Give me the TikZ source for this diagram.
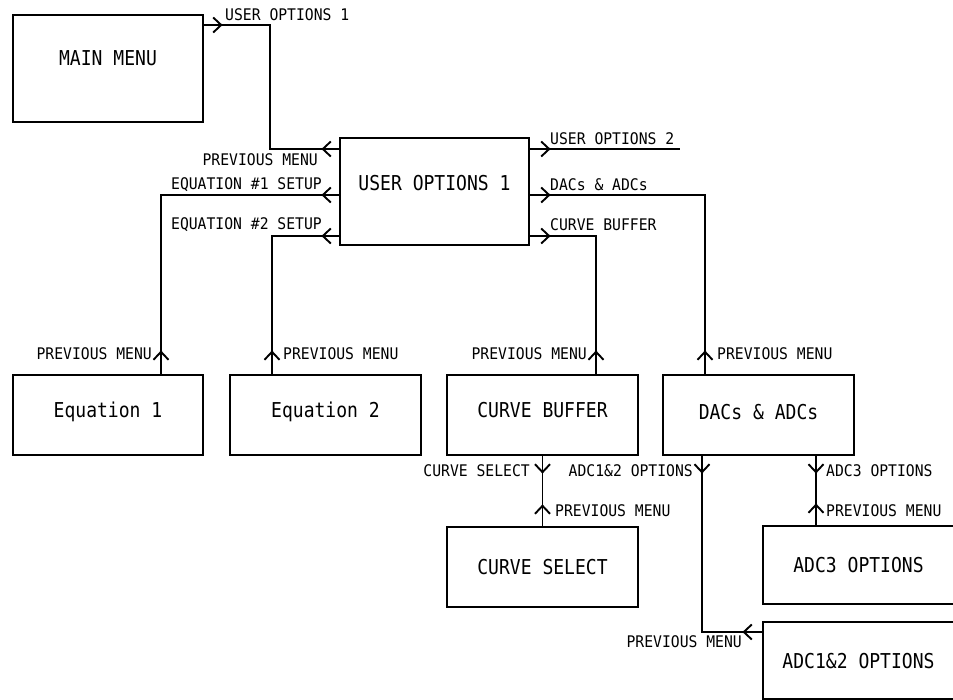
\documentclass[tikz,border=0pt]{standalone}
\usepackage{fontspec}
\newfontfamily\dmono[FakeStretch=0.92]{DejaVu Sans Mono}
\newfontfamily\bmono[FakeStretch=0.88]{DejaVu Sans Mono}
\usetikzlibrary{arrows.meta}
\tikzset{
  boxnode/.style={draw, line width=1.2pt, minimum width=191pt, minimum height=80pt, inner sep=0pt,
    font=\bmono\fontsize{20.5}{24}\selectfont, text height=15pt, text depth=0pt},
  lbl/.style={inner sep=0pt, font=\dmono\fontsize{16}{19}\selectfont},
  conn/.style={line width=1.2pt},
  arr/.style={line width=1.2pt, -{Straight Barb[length=8pt,width=15pt,line width=1.9pt]}},
}
\begin{document}
\begin{tikzpicture}[x=1pt,y=-1pt]
\useasboundingbox (0,0) rectangle (953,700);
\clip (0,0) rectangle (953,700);
% boxes
\node[boxnode, minimum width=190pt, minimum height=107pt, text depth=21pt] (main) at (108,68.5) {MAIN MENU};
\node[boxnode, minimum width=189pt, minimum height=107pt, text depth=17pt] (uo1) at (434.5,191.5) {USER OPTIONS 1};
\node[boxnode, minimum width=190pt, text depth=10pt] (eq1) at (108,415) {Equation 1};
\node[boxnode, text depth=10pt] (eq2) at (325.5,415) {Equation 2};
\node[boxnode, text depth=10pt] (cb) at (542.5,415) {CURVE BUFFER};
\node[boxnode, text depth=6pt] (dac) at (758.5,415) {DACs \& ADCs};
\node[boxnode] (cs) at (542.5,567) {CURVE SELECT};
\node[boxnode, minimum height=78pt] (adc3) at (858.5,565) {ADC3 OPTIONS};
\node[boxnode, minimum height=77pt] (adc12) at (858.5,660.5) {ADC1\&2 OPTIONS};
\coordinate (uo2end) at (680,149);
% connectors
\draw[conn] (main.east |- 0,25) -- (270,25) |- (uo1.west |- 0,149);
\draw[arr] (main.east |- 0,25) -- ++(19,0);
\draw[arr] (uo1.west |- 0,149) -- ++(-18,0);
\draw[conn] (uo1.west |- 0,195) -| (161,0 |- eq1.north);
\draw[arr] (uo1.west |- 0,195) -- ++(-18,0);
\draw[arr] (161,0 |- eq1.north) -- ++(0,-24);
\draw[conn] (uo1.west |- 0,236) -| (272,0 |- eq2.north);
\draw[arr] (uo1.west |- 0,236) -- ++(-18,0);
\draw[arr] (272,0 |- eq2.north) -- ++(0,-24);
\draw[conn] (uo1.east |- 0,149) -- (uo2end);
\draw[arr] (uo1.east |- 0,149) -- ++(21,0);
\draw[conn] (uo1.east |- 0,195) -| (705,0 |- dac.north);
\draw[arr] (uo1.east |- 0,195) -- ++(21,0);
\draw[arr] (705,0 |- dac.north) -- ++(0,-24);
\draw[conn] (uo1.east |- 0,236) -| (596,0 |- cb.north);
\draw[arr] (uo1.east |- 0,236) -- ++(21,0);
\draw[arr] (596,0 |- cb.north) -- ++(0,-24);
\draw[conn] (cb.south) -- (cs.north);
\draw[arr] (cb.south) -- ++(0,18);
\draw[arr] (cs.north) -- ++(0,-22);
\draw[conn] (702,0 |- dac.south) |- (adc12.west |- 0,632);
\draw[arr] (702,0 |- dac.south) -- ++(0,18);
\draw[arr] (adc12.west |- 0,632) -- ++(-20,0);
\draw[conn] (816,0 |- dac.south) -- (816,0 |- adc3.north);
\draw[arr] (816,0 |- dac.south) -- ++(0,18);
\draw[arr] (816,0 |- adc3.north) -- ++(0,-22);
% labels
\node[lbl, anchor=west] (l1) at (225,15) {USER OPTIONS 1};
\node[lbl, anchor=east] (l2) at (318,160) {PREVIOUS MENU};
\node[lbl, anchor=east] (l3) at (322,185) {EQUATION \#1 SETUP};
\node[lbl, anchor=east] (l4) at (322,225) {EQUATION \#2 SETUP};
\node[lbl, anchor=west] (l5) at (550,139) {USER OPTIONS 2};
\node[lbl, anchor=west] (l6) at (550,185) {DACs \& ADCs};
\node[lbl, anchor=west] (l7) at (550,225) {CURVE BUFFER};
\node[lbl, anchor=east] (l8) at (152,354) {PREVIOUS MENU};
\node[lbl, anchor=west] (l9) at (283,354) {PREVIOUS MENU};
\node[lbl, anchor=east] (l10) at (587,354) {PREVIOUS MENU};
\node[lbl, anchor=west] (l11) at (717,354) {PREVIOUS MENU};
\node[lbl, anchor=east] (l12) at (530,471) {CURVE SELECT};
\node[lbl, anchor=west] (l13) at (555,511) {PREVIOUS MENU};
\node[lbl, anchor=east] (l14) at (693,471) {ADC1\&2 OPTIONS};
\node[lbl, anchor=west] (l15) at (826,471) {ADC3 OPTIONS};
\node[lbl, anchor=west] (l16) at (826,511) {PREVIOUS MENU};
\node[lbl, anchor=east] (l17) at (742,642) {PREVIOUS MENU};
\end{tikzpicture}
\end{document}
